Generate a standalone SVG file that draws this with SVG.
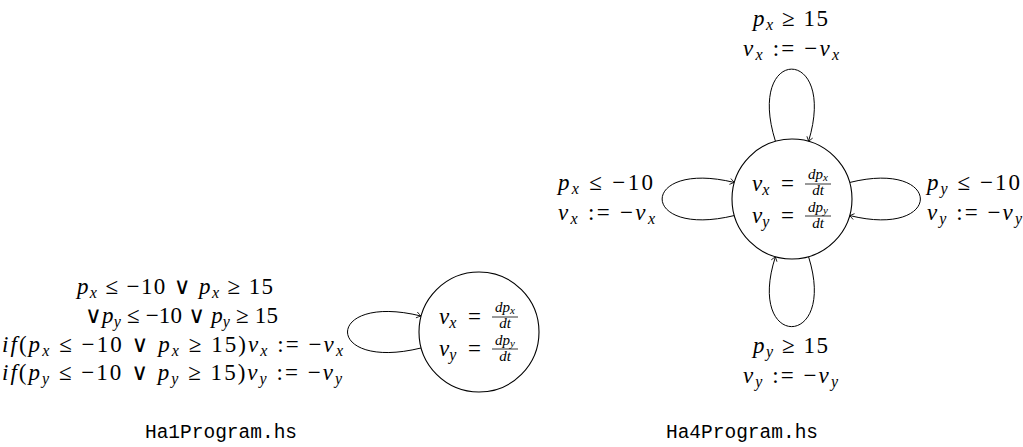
<svg xmlns="http://www.w3.org/2000/svg" width="1023" height="447" viewBox="0 0 1023 447">
<style>
.m{font-family:"Liberation Serif","DejaVu Serif",serif;font-size:23px;fill:#000}
.i{font-style:italic}
.s{font-size:16px;font-style:italic}
.f{font-family:"Liberation Serif","DejaVu Serif",serif;font-size:15px;font-style:italic;fill:#000}
.fs{font-size:11px}
.node{fill:#fff;stroke:#000;stroke-width:1.1}
.edge{fill:none;stroke:#000;stroke-width:1}
.bar{stroke:#000;stroke-width:0.8}
.cap{font-family:"Liberation Mono","DejaVu Sans Mono",monospace;font-size:19.5px;fill:#000}
</style>
<defs>
<marker id="arr" viewBox="-6 -4 8 8" refX="0" refY="0" markerWidth="8" markerHeight="8" markerUnits="userSpaceOnUse" orient="auto">
<path d="M-4.5,-3 Q-1.5,-0.8 0,0 Q-1.5,0.8 -4.5,3" fill="none" stroke="#000" stroke-width="0.8"/>
</marker>
</defs>

<g id="connectors">
<path class="edge" d="M421,348 C323,372 323,292 421,316" marker-end="url(#arr)"/>
<path class="edge" d="M734.5,215.5 C638,239 638,159 734.5,182.5" marker-end="url(#arr)"/>
<path class="edge" d="M849.5,182.5 C944,159 944,239 849.5,215.5" marker-end="url(#arr)"/>
<path class="edge" d="M775.5,141.5 C745,45 838,45 808.5,141.5" marker-end="url(#arr)"/>
<path class="edge" d="M808.5,256.5 C838,350 745,350 775.5,256.5" marker-end="url(#arr)"/>
</g>

<g id="node-ha1">
<circle class="node" cx="479" cy="332" r="60"/>
<text class="m" x="439" y="324"><tspan class="i">v</tspan><tspan class="s" dy="4">x</tspan></text>
<text class="m" x="474.5" y="324" text-anchor="middle">=</text>
<text class="f" x="505" y="312" text-anchor="middle">dp<tspan class="fs" dy="2">x</tspan></text>
<line class="bar" x1="492" y1="317" x2="518" y2="317"/>
<text class="f" x="505" y="328" text-anchor="middle">dt</text>
<text class="m" x="439" y="356"><tspan class="i">v</tspan><tspan class="s" dy="4">y</tspan></text>
<text class="m" x="474.5" y="356" text-anchor="middle">=</text>
<text class="f" x="505" y="345" text-anchor="middle">dp<tspan class="fs" dy="2">y</tspan></text>
<line class="bar" x1="492" y1="349" x2="518" y2="349"/>
<text class="f" x="505" y="361" text-anchor="middle">dt</text>
</g>

<g id="label-ha1">
<text class="m" x="175" y="294" text-anchor="middle" textLength="196" lengthAdjust="spacing"><tspan class="i">p</tspan><tspan class="s" dy="4">x</tspan><tspan dy="-4"> ≤ −10 ∨ </tspan><tspan class="i">p</tspan><tspan class="s" dy="4">x</tspan><tspan dy="-4"> ≥ 15</tspan></text>
<text class="m" x="181.5" y="323" text-anchor="middle" textLength="193" lengthAdjust="spacing">∨<tspan class="i">p</tspan><tspan class="s" dy="4">y</tspan><tspan dy="-4"> ≤ −10 ∨ </tspan><tspan class="i">p</tspan><tspan class="s" dy="4">y</tspan><tspan dy="-4"> ≥ 15</tspan></text>
<text class="m" x="172.5" y="352" text-anchor="middle" textLength="341" lengthAdjust="spacing"><tspan class="i">if</tspan>(<tspan class="i">p</tspan><tspan class="s" dy="4">x</tspan><tspan dy="-4"> ≤ −10 ∨ </tspan><tspan class="i">p</tspan><tspan class="s" dy="4">x</tspan><tspan dy="-4"> ≥ 15)</tspan><tspan class="i">v</tspan><tspan class="s" dy="4">x</tspan><tspan dy="-4"> := −</tspan><tspan class="i">v</tspan><tspan class="s" dy="4">x</tspan></text>
<text class="m" x="172" y="380" text-anchor="middle" textLength="340" lengthAdjust="spacing"><tspan class="i">if</tspan>(<tspan class="i">p</tspan><tspan class="s" dy="4">y</tspan><tspan dy="-4"> ≤ −10 ∨ </tspan><tspan class="i">p</tspan><tspan class="s" dy="4">y</tspan><tspan dy="-4"> ≥ 15)</tspan><tspan class="i">v</tspan><tspan class="s" dy="4">y</tspan><tspan dy="-4"> := −</tspan><tspan class="i">v</tspan><tspan class="s" dy="4">y</tspan></text>
</g>

<g id="node-ha4">
<circle class="node" cx="792" cy="199" r="60"/>
<text class="m" x="752" y="191"><tspan class="i">v</tspan><tspan class="s" dy="4">x</tspan></text>
<text class="m" x="787.5" y="191" text-anchor="middle">=</text>
<text class="f" x="818" y="179" text-anchor="middle">dp<tspan class="fs" dy="2">x</tspan></text>
<line class="bar" x1="805" y1="184" x2="831" y2="184"/>
<text class="f" x="818" y="195" text-anchor="middle">dt</text>
<text class="m" x="752" y="223"><tspan class="i">v</tspan><tspan class="s" dy="4">y</tspan></text>
<text class="m" x="787.5" y="223" text-anchor="middle">=</text>
<text class="f" x="818" y="212" text-anchor="middle">dp<tspan class="fs" dy="2">y</tspan></text>
<line class="bar" x1="805" y1="216" x2="831" y2="216"/>
<text class="f" x="818" y="228" text-anchor="middle">dt</text>
</g>

<g id="label-top">
<text class="m" x="790.5" y="26" text-anchor="middle" textLength="75" lengthAdjust="spacing"><tspan class="i">p</tspan><tspan class="s" dy="4">x</tspan><tspan dy="-4"> ≥ 15</tspan></text>
<text class="m" x="791" y="56" text-anchor="middle" textLength="96" lengthAdjust="spacing"><tspan class="i">v</tspan><tspan class="s" dy="4">x</tspan><tspan dy="-4"> := −</tspan><tspan class="i">v</tspan><tspan class="s" dy="4">x</tspan></text>
</g>
<g id="label-left">
<text class="m" x="605.5" y="190" text-anchor="middle" textLength="95" lengthAdjust="spacing"><tspan class="i">p</tspan><tspan class="s" dy="4">x</tspan><tspan dy="-4"> ≤ −10</tspan></text>
<text class="m" x="606.5" y="220" text-anchor="middle" textLength="97" lengthAdjust="spacing"><tspan class="i">v</tspan><tspan class="s" dy="4">x</tspan><tspan dy="-4"> := −</tspan><tspan class="i">v</tspan><tspan class="s" dy="4">x</tspan></text>
</g>
<g id="label-right">
<text class="m" x="927" y="190" textLength="93" lengthAdjust="spacing"><tspan class="i">p</tspan><tspan class="s" dy="4">y</tspan><tspan dy="-4"> ≤ −10</tspan></text>
<text class="m" x="927" y="220" textLength="95" lengthAdjust="spacing"><tspan class="i">v</tspan><tspan class="s" dy="4">y</tspan><tspan dy="-4"> := −</tspan><tspan class="i">v</tspan><tspan class="s" dy="4">y</tspan></text>
</g>
<g id="label-bottom">
<text class="m" x="790.5" y="353" text-anchor="middle" textLength="75" lengthAdjust="spacing"><tspan class="i">p</tspan><tspan class="s" dy="4">y</tspan><tspan dy="-4"> ≥ 15</tspan></text>
<text class="m" x="790.5" y="383" text-anchor="middle" textLength="95" lengthAdjust="spacing"><tspan class="i">v</tspan><tspan class="s" dy="4">y</tspan><tspan dy="-4"> := −</tspan><tspan class="i">v</tspan><tspan class="s" dy="4">y</tspan></text>
</g>

<g id="captions">
<text class="cap" x="221" y="438" text-anchor="middle">Ha1Program.hs</text>
<text class="cap" x="742" y="438" text-anchor="middle">Ha4Program.hs</text>
</g>
</svg>
